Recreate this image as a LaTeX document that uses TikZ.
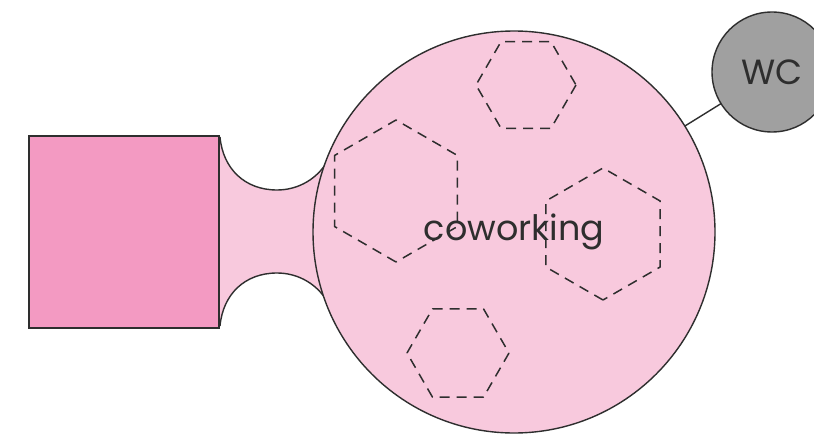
\documentclass[tikz,border=0pt]{standalone}
\usepackage{fontspec}
\setmainfont{Poppins}
\definecolor{roomfill}{HTML}{F39AC2}
\definecolor{hallfill}{HTML}{F8C9DD}
\definecolor{wcfill}{HTML}{A0A0A0}
\definecolor{ink}{HTML}{2E2E2E}
\tikzset{
  outline/.style={draw=ink, line width=1.4pt},
  hexline/.style={draw=ink, line width=1.5pt, dash pattern=on 10pt off 7pt, line join=round},
  label/.style={text=ink, font=\fontsize{35}{38}\selectfont},
}
\begin{document}
\begin{tikzpicture}[x=1pt,y=-1pt]
\clip (0,0) rectangle (814,436);
\fill[white] (0,0) rectangle (814,436);
% neck between room and coworking
\fill[hallfill] (220,137) .. controls (223,169) and (245,190) .. (277,190)
   .. controls (296,190) and (314,181) .. (325,165)
   -- (345,165) -- (345,298) -- (325,298)
   .. controls (314,282) and (296,273) .. (277,273)
   .. controls (245,273) and (223,294) .. (220,326) -- cycle;
\draw[outline] (220,137) .. controls (223,169) and (245,190) .. (277,190)
   .. controls (296,190) and (314,181) .. (325,165);
\draw[outline] (325,298) .. controls (314,282) and (296,273) .. (277,273)
   .. controls (245,273) and (223,294) .. (220,326);
% square room
\node[outline, fill=roomfill, minimum width=190pt, minimum height=192pt, inner sep=0pt, outer sep=0pt] (room) at (124,232) {};
% coworking circle
\node[outline, circle, fill=hallfill, minimum size=402pt, inner sep=0pt, outer sep=0pt] (cow) at (514,232) {};
% WC
\node[outline, circle, fill=wcfill, minimum size=120pt, inner sep=0pt, outer sep=0pt] (wc) at (772,72) {};
\draw[outline] (cow) -- (wc);
% hexagons
\draw[hexline] (526,85) ++(0:50) -- ++(120:50) -- ++(180:50) -- ++(240:50) -- ++(300:50) -- ++(0:50) -- cycle;
\draw[hexline] (458,353) ++(0:51) -- ++(120:51) -- ++(180:51) -- ++(240:51) -- ++(300:51) -- ++(0:51) -- cycle;
\draw[hexline] (396,191) ++(90:71) -- ++(210:71) -- ++(270:71) -- ++(330:71) -- ++(30:71) -- ++(90:71) -- cycle;
\draw[hexline] (603,234) ++(90:66) -- ++(210:66) -- ++(270:66) -- ++(330:66) -- ++(30:66) -- ++(90:66) -- cycle;
% labels
\node[label] (cowtext) at (cow.center) {coworking};
\node[label] (wctext) at (wc.center) {WC};
\end{tikzpicture}
\end{document}
